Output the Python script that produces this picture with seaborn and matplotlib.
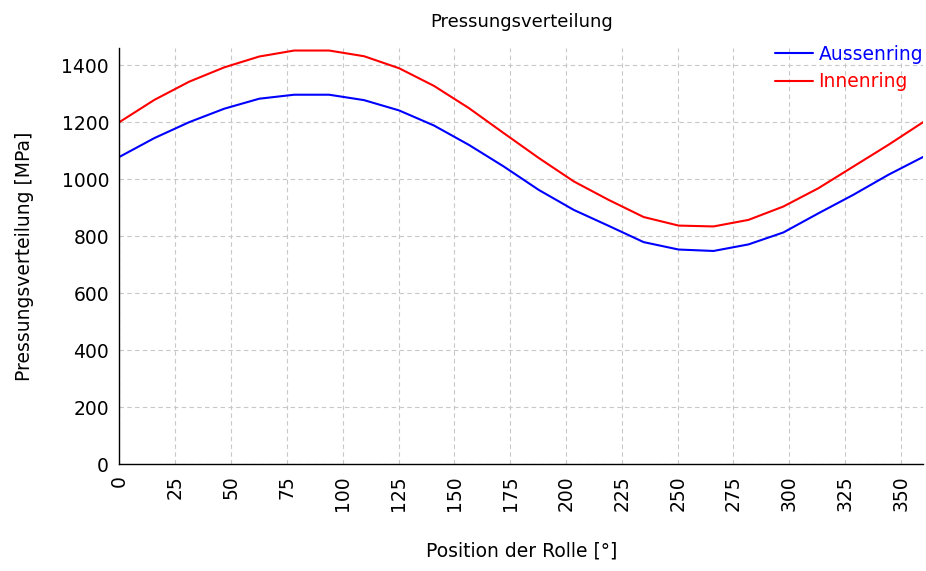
import numpy as np
import pandas as pd
import matplotlib
matplotlib.use("Agg")
import matplotlib.pyplot as plt
import seaborn as sns

# roller position in degrees (24 points, 0..360)
position = np.linspace(0, 360, 24)

# pressure values [MPa]
aussenring = [1078, 1144, 1200, 1247, 1282, 1296, 1296, 1277, 1241, 1188, 1120, 1044,
              962, 892, 836, 779, 753, 748, 771, 813, 880, 945, 1015, 1078]
innenring = [1200, 1278, 1342, 1392, 1430, 1451, 1451, 1431, 1389, 1327, 1249, 1161,
             1074, 992, 927, 867, 837, 834, 857, 904, 968, 1044, 1120, 1200]

series_names = ["Aussenring", "Innenring"]
colors = {"Aussenring": "#0000ff", "Innenring": "#ff0000"}


def make_df():
    df = pd.DataFrame({"Position": position, "Aussenring": aussenring, "Innenring": innenring})
    # long format for seaborn
    return df.melt("Position", var_name="Ring", value_name="Pressung")


def make_plot(df):
    sns.set_style("white")
    plt.rcParams["font.family"] = ["DejaVu Sans"]
    # plain black text like the original
    for key in ["text.color", "axes.labelcolor", "xtick.color", "ytick.color"]:
        plt.rcParams[key] = "black"

    fig = plt.figure(figsize=(9.26, 5.71), dpi=100)
    ax = fig.add_axes([0.129, 0.187, 0.868, 0.729])

    sns.lineplot(data=df, x="Position", y="Pressung", hue="Ring", hue_order=series_names,
                 palette=colors, linewidth=1.5, ax=ax)

    ax.set_xlim(0, 360)
    ax.set_ylim(0, 1460)
    ax.set_xticks(np.arange(0, 351, 25))
    ax.set_yticks(np.arange(0, 1401, 200))

    ax.grid(True, linestyle=(0, (4, 3)), color="#c8c8c8", linewidth=0.8)
    ax.set_axisbelow(True)
    for side in ["top", "right"]:
        ax.spines[side].set_visible(False)
    for side in ["left", "bottom"]:
        ax.spines[side].set_color("black")
        ax.spines[side].set_linewidth(1.0)

    ax.tick_params(axis="y", direction="inout", length=9, width=1, labelsize=13.5, pad=3)
    ax.tick_params(axis="x", direction="out", length=5, width=1, labelsize=13.5, pad=3,
                   labelrotation=90)

    ax.set_title("Pressungsverteilung", fontsize=13, pad=15)
    ax.set_xlabel("Position der Rolle [°]", fontsize=13.5, labelpad=22)
    ax.set_ylabel("Pressungsverteilung [MPa]", fontsize=13.5, labelpad=20)

    leg = ax.legend(loc="upper right", bbox_to_anchor=(1.007, 0.938),
                    bbox_transform=fig.transFigure, frameon=False,
                    fontsize=13.5, handlelength=2.0, handletextpad=0.3,
                    borderpad=0, labelspacing=0.45)
    for text, name in zip(leg.get_texts(), series_names):
        text.set_color(colors[name])

    fig.savefig("out.png", dpi=100)


def main():
    df = make_df()
    make_plot(df)


if __name__ == "__main__":
    main()
